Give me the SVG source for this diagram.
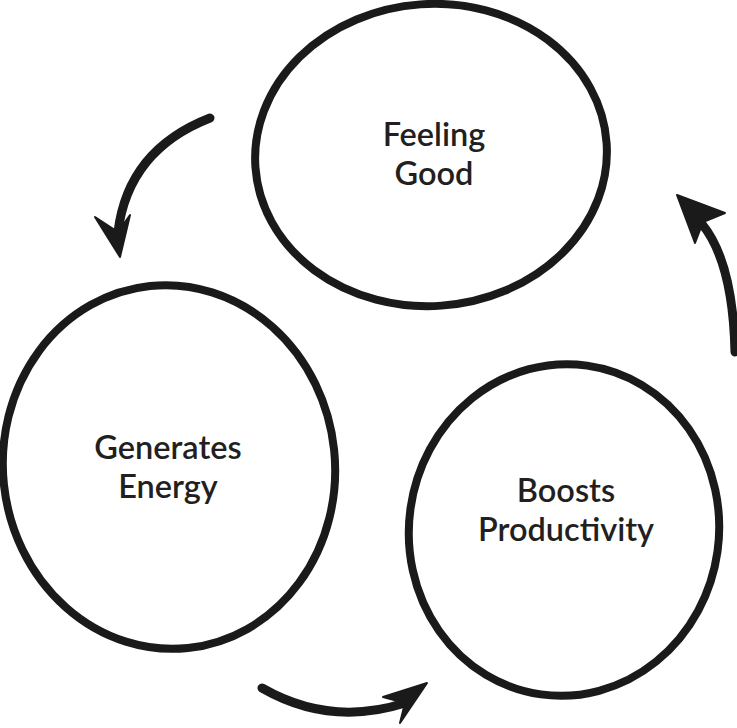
<svg xmlns="http://www.w3.org/2000/svg" width="737" height="728" viewBox="0 0 737 728">
<style>
.node{fill:none;stroke:#1a1a1a;stroke-width:8}
.lbl{font-family:Lato,"Noto Sans",sans-serif;font-size:32.5px;font-weight:600;fill:#231f20;text-anchor:middle}
.shaft{fill:none;stroke:#1a1a1a;stroke-width:9;stroke-linecap:round}
.head{fill:#1a1a1a;stroke:#1a1a1a;stroke-width:2;stroke-linejoin:round}
</style>
<rect width="737" height="728" fill="#fff"/>
<g id="feeling-good">
<ellipse class="node" cx="431" cy="155" rx="176" ry="151" transform="rotate(-4 431 155)"/>
<text class="lbl" x="434" y="146">Feeling</text>
<text class="lbl" x="434" y="185">Good</text>
</g>
<g id="generates-energy">
<ellipse class="node" cx="169" cy="467" rx="166" ry="182" transform="rotate(-6 169 467)"/>
<text class="lbl" x="168" y="459">Generates</text>
<text class="lbl" x="168" y="498">Energy</text>
</g>
<g id="boosts-productivity">
<ellipse class="node" cx="564" cy="530" rx="155" ry="166" transform="rotate(8 564 530)"/>
<text class="lbl" x="566" y="502">Boosts</text>
<text class="lbl" x="566" y="541">Productivity</text>
</g>
<g id="connectors">
<path class="shaft" d="M210,118 Q128,150 118,232"/>
<path class="head" d="M120,257 L95,217 L118,232 L130,215 Z"/>
<path class="shaft" d="M735,352 Q733,262 702,224"/>
<path class="head" d="M677,195 L725,213 L703,222 L695,243 Z"/>
<path class="shaft" d="M262,688 Q330,727 405,703"/>
<path class="head" d="M427,683 L383,697 L405,703 L400,723 Z"/>
</g>
</svg>
